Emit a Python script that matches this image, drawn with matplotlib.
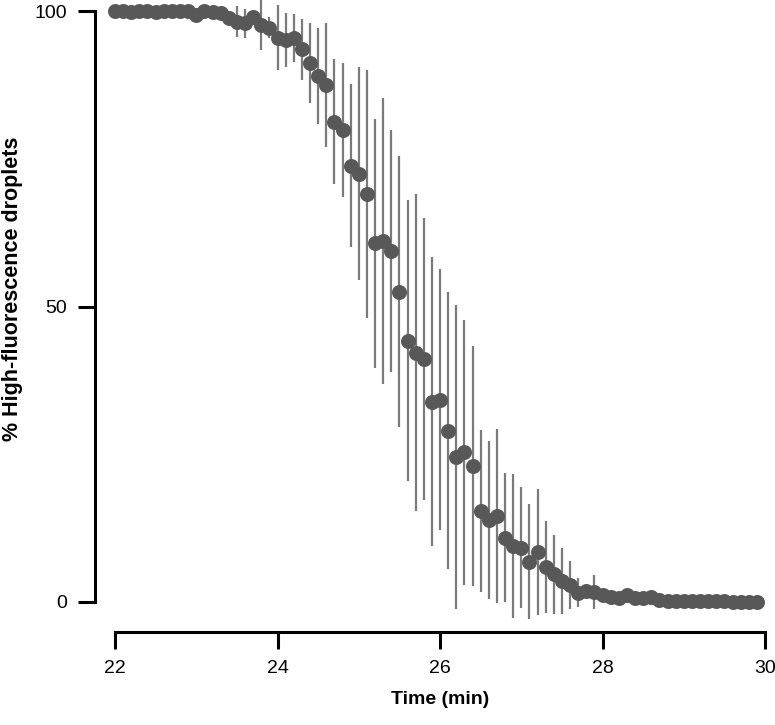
import matplotlib
matplotlib.use("Agg")
import matplotlib.pyplot as plt

# sampling times (min), one droplet scan every 0.1 min
time_min = [
    22.0, 22.1, 22.2, 22.3, 22.4, 22.5, 22.6, 22.7, 22.8, 22.9,
    23.0, 23.1, 23.2, 23.3, 23.4, 23.5, 23.6, 23.7, 23.8, 23.9,
    24.0, 24.1, 24.2, 24.3, 24.4, 24.5, 24.6, 24.7, 24.8, 24.9,
    25.0, 25.1, 25.2, 25.3, 25.4, 25.5, 25.6, 25.7, 25.8, 25.9,
    26.0, 26.1, 26.2, 26.3, 26.4, 26.5, 26.6, 26.7, 26.8, 26.9,
    27.0, 27.1, 27.2, 27.3, 27.4, 27.5, 27.6, 27.7, 27.8, 27.9,
    28.0, 28.1, 28.2, 28.3, 28.4, 28.5, 28.6, 28.7, 28.8, 28.9,
    29.0, 29.1, 29.2, 29.3, 29.4, 29.5, 29.6, 29.7, 29.8, 29.9,
]

# mean % high-fluorescence droplets
pct_high = [
    100.0, 100.0, 99.9, 100.0, 100.0, 99.9, 100.0, 100.0, 100.0, 100.0,
    99.3, 100.0, 99.9, 99.6, 98.8, 98.2, 97.9, 99.0, 97.6, 97.2,
    95.5, 95.1, 95.4, 93.5, 91.2, 89.0, 87.5, 81.3, 79.9, 73.8,
    72.5, 69.0, 60.7, 61.1, 59.4, 52.5, 44.2, 42.2, 41.1, 33.9,
    34.2, 29.0, 24.6, 25.3, 23.0, 15.4, 13.9, 14.6, 10.9, 9.5,
    9.2, 6.8, 8.5, 5.9, 4.7, 3.6, 2.9, 1.6, 1.9, 1.7,
    1.2, 0.9, 0.6, 1.2, 0.6, 0.6, 0.9, 0.3, 0.2, 0.2,
    0.2, 0.15, 0.1, 0.1, 0.1, 0.1, 0.05, 0.05, 0.05, 0.05,
]

# error (+/-), in % units
pct_err = [
    0.3, 0.3, 0.3, 0.3, 0.3, 0.3, 0.3, 0.3, 0.3, 0.3,
    0.5, 0.4, 0.5, 0.6, 0.8, 2.6, 2.4, 1.0, 4.2, 1.8,
    5.5, 4.5, 4.1, 5.1, 6.8, 8.2, 10.5, 10.5, 11.3, 13.8,
    18.0, 21.0, 21.1, 24.2, 20.4, 22.9, 23.8, 26.8, 23.9, 24.4,
    22.1, 23.4, 25.7, 22.4, 20.3, 13.7, 13.4, 14.7, 10.9, 12.2,
    10.2, 9.7, 10.7, 7.8, 6.7, 5.6, 4.1, 2.5, 1.0, 2.8,
    0.8, 0.8, 0.6, 0.8, 0.5, 0.5, 0.6, 0.4, 0.3, 0.3,
    0.3, 0.2, 0.2, 0.2, 0.2, 0.2, 0.1, 0.1, 0.1, 0.1,
]

plt.rcParams['font.family'] = ['Liberation Sans', 'DejaVu Sans']

fig = plt.figure(figsize=(7.75, 7.25), dpi=100)
ax = fig.add_axes([115/775, 123/725, 650/775, 591/725])

ax.errorbar(time_min, pct_high, yerr=pct_err, fmt='none',
            ecolor='#7a7a7a', elinewidth=1.6, capsize=0, clip_on=False, zorder=2)
ax.plot(time_min, pct_high, 'o', ms=10.8, color='#585858', mec='none',
        clip_on=False, zorder=3)

ax.set_xlim(22, 30)
ax.set_ylim(0, 100)
ax.set_xticks([22, 24, 26, 28, 30])
ax.set_yticks([0, 50, 100])

for s in ('top', 'right'):
    ax.spines[s].set_visible(False)
ax.spines['left'].set_position(('outward', 14.4))
ax.spines['bottom'].set_position(('outward', 21.6))
ax.spines['left'].set_bounds(0, 100)
ax.spines['bottom'].set_bounds(22, 30)
for s in ('left', 'bottom'):
    ax.spines[s].set_linewidth(2.2)
ax.tick_params(axis='both', direction='out', length=12, width=2.2,
               labelsize=14, pad=8)

ax.set_xlabel('Time (min)', fontsize=14, fontweight='bold', labelpad=10)
ax.set_ylabel('% High-fluorescence droplets', fontsize=15.5, fontweight='bold',
              va='center')
ax.yaxis.set_label_coords(-0.158, 0.53)

fig.savefig('out.png', dpi=100)
